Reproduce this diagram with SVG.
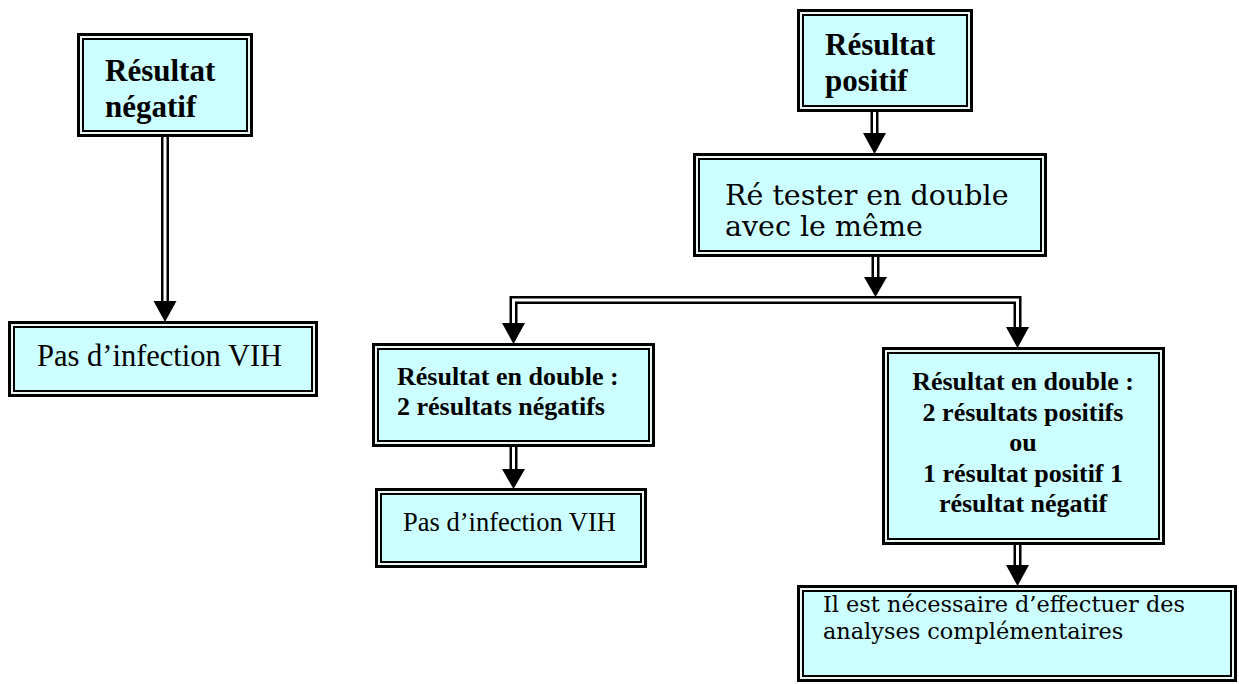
<svg xmlns="http://www.w3.org/2000/svg" width="1239" height="684" viewBox="0 0 1239 684">
<style>
.outer{fill:#E9F7F7;stroke:#000;stroke-width:3}
.inner{fill:#CCFFFF;stroke:#000;stroke-width:2}
.tb{font-family:"Liberation Serif","Times New Roman",serif;font-weight:bold;fill:#000}
.tr{font-family:"Liberation Serif","Times New Roman",serif;fill:#000}
.td{font-family:"DejaVu Serif",serif;fill:#000}
.lk{fill:none;stroke:#000;stroke-width:8;stroke-linejoin:miter}
.lw{fill:none;stroke:#fff;stroke-width:3;stroke-linejoin:miter}
.ah{fill:#000}
</style>
<rect width="1239" height="684" fill="#fff"/>
<g id="connectors">
<path class="lk" d="M165,137 V303"/>
<path class="lk" d="M874.5,112 V135"/>
<path class="lk" d="M875.5,257 V279"/>
<path class="lk" d="M513.5,325 V300 H1017.5 V329"/>
<path class="lk" d="M513.5,447 V471"/>
<path class="lk" d="M1017.5,545 V567"/>
<path class="lw" d="M165,137 V303"/>
<path class="lw" d="M874.5,112 V135"/>
<path class="lw" d="M875.5,257 V279"/>
<path class="lw" d="M513.5,325 V300 H1017.5 V329"/>
<path class="lw" d="M513.5,447 V471"/>
<path class="lw" d="M1017.5,545 V567"/>
<polygon class="ah" points="153.5,301 176.5,301 165,322"/>
<polygon class="ah" points="863,133 886,133 874.5,154"/>
<polygon class="ah" points="864,277 887,277 875.5,297"/>
<polygon class="ah" points="502,323 525,323 513.5,344"/>
<polygon class="ah" points="1006,327 1029,327 1017.5,348"/>
<polygon class="ah" points="502,469 525,469 513.5,489"/>
<polygon class="ah" points="1006,565 1029,565 1017.5,586"/>
</g>
<g id="resultat-negatif">
<rect class="outer" x="78.5" y="34.5" width="173" height="101"/>
<rect class="inner" x="83" y="39" width="164" height="92"/>
<text class="tb" font-size="31" x="105" y="81">Résultat</text>
<text class="tb" font-size="31" x="105" y="117">négatif</text>
</g>
<g id="pas-infection-1">
<rect class="outer" x="9.5" y="322.5" width="307" height="73"/>
<rect class="inner" x="14" y="327" width="298" height="64"/>
<text class="tr" font-size="30.5" x="37" y="366">Pas d’infection VIH</text>
</g>
<g id="resultat-positif">
<rect class="outer" x="798.5" y="10.5" width="173" height="100"/>
<rect class="inner" x="803" y="15" width="164" height="91"/>
<text class="tb" font-size="31" x="825" y="55">Résultat</text>
<text class="tb" font-size="31" x="825" y="91">positif</text>
</g>
<g id="re-tester">
<rect class="outer" x="694.5" y="154.5" width="351" height="101"/>
<rect class="inner" x="699" y="159" width="342" height="92"/>
<text class="td" font-size="28.5" x="725" y="205">Ré tester en double</text>
<text class="td" font-size="28.5" x="725" y="236">avec le même</text>
</g>
<g id="double-negatif">
<rect class="outer" x="373.5" y="344.5" width="280" height="101"/>
<rect class="inner" x="378" y="349" width="271" height="92"/>
<text class="tb" font-size="26" x="397" y="385">Résultat en double :</text>
<text class="tb" font-size="26" x="397" y="415">2 résultats négatifs</text>
</g>
<g id="pas-infection-2">
<rect class="outer" x="376.5" y="489.5" width="269" height="77"/>
<rect class="inner" x="381" y="494" width="260" height="68"/>
<text class="tr" font-size="26.5" x="403" y="531">Pas d’infection VIH</text>
</g>
<g id="double-positif">
<rect class="outer" x="883.5" y="348.5" width="280" height="195"/>
<rect class="inner" x="888" y="353" width="271" height="186"/>
<text class="tb" font-size="26" text-anchor="middle" x="1023" y="390">Résultat en double :</text>
<text class="tb" font-size="26" text-anchor="middle" x="1023" y="420.5">2 résultats positifs</text>
<text class="tb" font-size="26" text-anchor="middle" x="1023" y="451">ou</text>
<text class="tb" font-size="26" text-anchor="middle" x="1023" y="481.5">1 résultat positif 1</text>
<text class="tb" font-size="26" text-anchor="middle" x="1023" y="512">résultat négatif</text>
</g>
<g id="analyses">
<rect class="outer" x="798.5" y="586.5" width="437" height="94"/>
<rect class="inner" x="803" y="591" width="428" height="85"/>
<text class="td" font-size="22.4" x="823" y="612">Il est nécessaire d’effectuer des</text>
<text class="td" font-size="22.4" x="823" y="639">analyses complémentaires</text>
</g>
</svg>
